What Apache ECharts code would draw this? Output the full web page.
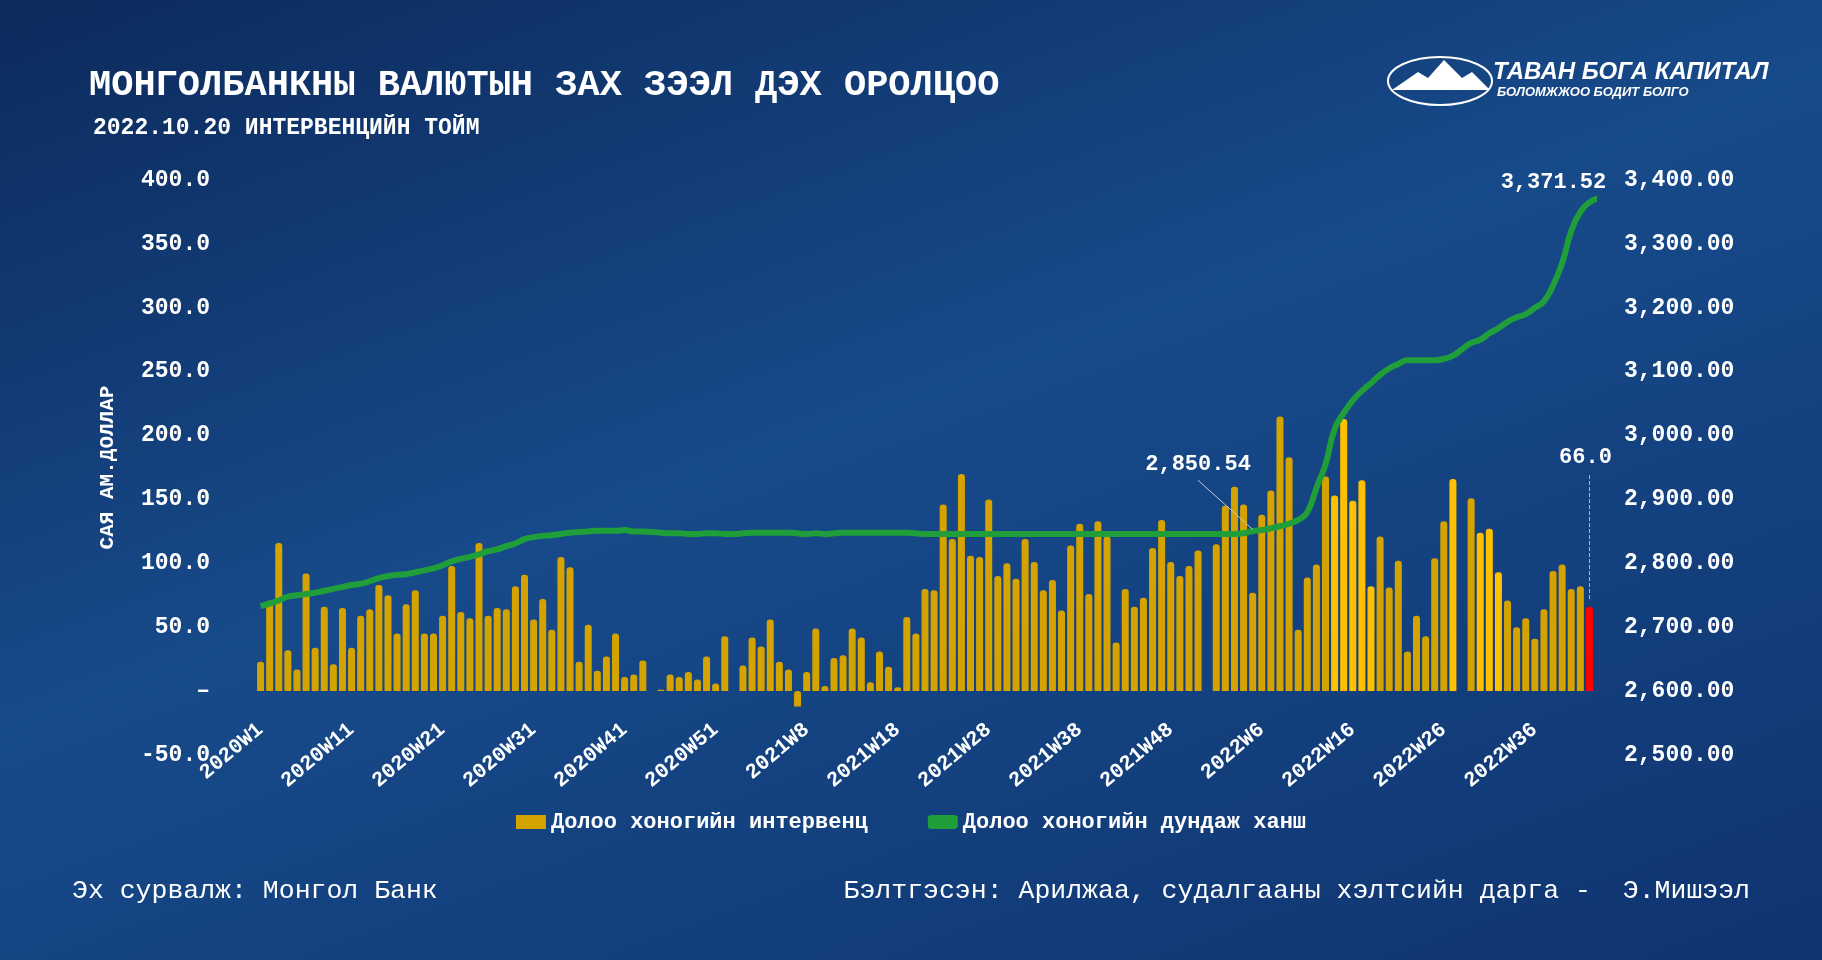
<!DOCTYPE html>
<html><head><meta charset="utf-8">
<script src="https://cdn.jsdelivr.net/npm/echarts@6/dist/echarts.min.js"></script>
<style>html,body{margin:0;padding:0;}#c{width:1822px;height:960px;background:linear-gradient(160deg,#0c2a5c 0%,#174a8a 45%,#0f3470 100%);}</style>
</head><body><div id="c"></div>
<script>
const weekCounts = [[2020,53],[2021,52],[2022,42]];
const categories = [];
weekCounts.forEach(([y,n])=>{for(let w=1;w<=n;w++)categories.push(y+'W'+w);});

const intervention = [23,71,116,32,17,92,34,66,21,65,34,59,64,83,75,45,68,79,45,45,
59,98,62,57,116,59,65,64,82,91,56,72,48,105,97,23,52,16,27,45,
11,13,24,0,1,13,11,15,9,27,6,43,0,20,42,35,56,23,17,-12,
15,49,4,26,28,49,42,7,31,19,3,58,45,80,79,146,119,170,106,105,
150,90,100,88,119,101,79,87,63,114,131,76,133,121,38,80,66,73,112,134,
101,90,98,110,0,115,145,160,146,77,138,157,215,183,48,89,99,168,153,213,
149,165,82,121,81,102,31,59,43,104,133,166,0,151,124,127,93,71,50,57,
41,64,94,99,80,82,66];

const avgRate = [2733,2737,2742,2748,2750,2752,2754,2757,2760,2763,2766,
2768,2772,2777,2780,2782,2783,2786,2789,2792,2797,
2803,2807,2810,2814,2819,2822,2827,2831,2838,2841,
2843,2844,2846,2848,2849,2850,2851,2851,2851,2852,
2850,2850,2849,2848,2847,2847,2846,2846,2847,2847,
2846,2846,2847,2848,2848,2848,2848,2848,2847,2846,
2847,2846,2847,2848,2848,2848,2848,2848,2848,2848,
2848,2847,2846,2846,2846,2846,2846,2846,2846,2846,
2846,2846,2846,2846,2846,2846,2846,2846,2846,2846,
2846,2846,2846,2846,2846,2846,2846,2846,2846,2846,
2846,2846,2846,2846,2846,2846,2846,2847,2850.54,2852,
2855,2858,2862,2868,2880,2918,2955,3010,3035,3055,
3070,3082,3095,3105,3112,3118,3118,3118,3118,3120,
3125,3135,3145,3150,3160,3168,3178,3185,3190,3200,
3210,3235,3270,3320,3350,3365,3371.52];

const brightIdx = [118,119,120,121,122,131,132,134,135,136];
const mono = 'Liberation Mono';
const barData = intervention.map((v,i)=>{
  if(i===intervention.length-1) return {value:v,itemStyle:{color:'#ff0000'}};
  if(brightIdx.includes(i)) return {value:v,itemStyle:{color:'#ffc000'}};
  return v;
});
const last = categories.length-1;

const chart = echarts.init(document.getElementById('c'));
chart.setOption({
  backgroundColor:'transparent',
  textStyle:{fontFamily:mono},
  title:[
    {text:'МОНГОЛБАНКНЫ ВАЛЮТЫН ЗАХ ЗЭЭЛ ДЭХ ОРОЛЦОО',left:84,top:62,textStyle:{color:'#fff',fontSize:37,fontWeight:'bold',fontFamily:mono}},
    {text:'2022.10.20 ИНТЕРВЕНЦИЙН ТОЙМ',left:88,top:112,textStyle:{color:'#fff',fontSize:23,fontWeight:'bold',fontFamily:mono}}
  ],
  graphic:[
    {type:'ellipse',shape:{cx:1440,cy:81,rx:52,ry:24},style:{fill:'none',stroke:'#fff',lineWidth:2}},
    {type:'polygon',shape:{points:[[1392,90],[1418,72],[1428,78],[1444,60],[1462,78],[1472,72],[1490,90]]},style:{fill:'#fff'}},
    {type:'text',left:1493,top:60,style:{text:'ТАВАН БОГА КАПИТАЛ',fill:'#fff',font:'italic bold 24px Liberation Sans'}},
    {type:'text',left:1497,top:86,style:{text:'БОЛОМЖЖОО БОДИТ БОЛГО',fill:'#fff',font:'italic bold 13px Liberation Sans'}},
    {type:'text',left:72,top:877,style:{text:'Эх сурвалж: Монгол Банк',fill:'#fff',font:'26.5px Liberation Mono'}},
    {type:'text',right:72,top:877,style:{text:'Бэлтгэсэн: Арилжаа, судалгааны хэлтсийн дарга -  Э.Мишээл',fill:'#fff',font:'26.5px Liberation Mono'}}
  ],
  legend:{bottom:122,left:'center',itemGap:60,textStyle:{color:'#fff',fontSize:22,fontWeight:'bold',fontFamily:mono},
    data:[{name:'Долоо хоногийн интервенц',icon:'rect'},{name:'Долоо хоногийн дундаж ханш',icon:'roundRect'}],itemWidth:30,itemHeight:14},
  grid:{left:256,right:228,top:180,bottom:205},
  xAxis:{type:'category',data:categories,
    axisLine:{show:false},axisTick:{show:false},
    axisLabel:{color:'#fff',interval:9,rotate:40,fontSize:21,fontWeight:'bold',fontFamily:mono,margin:-28}},
  yAxis:[
    {type:'value',min:-50,max:400,interval:50,splitLine:{show:false},
      name:'САЯ АМ.ДОЛЛАР',nameLocation:'middle',nameGap:138,nameRotate:90,
      nameTextStyle:{color:'#fff',fontSize:21,fontWeight:'bold',fontFamily:mono},
      axisLabel:{color:'#fff',fontSize:23,fontWeight:'bold',fontFamily:mono,margin:46,align:'right',formatter:v=>v===0?'–':v.toFixed(1)}},
    {type:'value',min:2500,max:3400,interval:100,splitLine:{show:false},
      axisLabel:{color:'#fff',fontSize:23,fontWeight:'bold',fontFamily:mono,margin:30,formatter:v=>v.toLocaleString('en-US',{minimumFractionDigits:2})}}
  ],
  series:[
    {name:'Долоо хоногийн интервенц',type:'bar',data:barData,barWidth:7,itemStyle:{color:'#d4a300',borderRadius:[3,3,0,0]},
      markLine:{symbol:'none',silent:true,lineStyle:{color:'#aab8d0',type:'dashed',width:1},label:{show:false},
        data:[[{coord:[last,72]},{coord:[last,170]}]]},
      markPoint:{symbol:'circle',symbolSize:0,data:[{coord:[last,170]}],label:{show:true,formatter:'66.0',color:'#fff',fontSize:22,fontWeight:'bold',fontFamily:mono,offset:[-4,-16]}}},
    {name:'Долоо хоногийн дундаж ханш',type:'line',yAxisIndex:1,data:avgRate,smooth:true,showSymbol:false,
      lineStyle:{color:'#1f9e3a',width:6},itemStyle:{color:'#1f9e3a'},
      markLine:{symbol:'none',silent:true,lineStyle:{color:'#c0c8d8',type:'solid',width:1},label:{show:false},
        data:[[{coord:[109,2853]},{coord:[103,2930]}]]},
      markPoint:{symbol:'circle',symbolSize:0,
        data:[{coord:[103,2930],label:{formatter:'2,850.54',offset:[0,-16]}},
              {coord:[last,3371.52],label:{formatter:'3,371.52',offset:[-36,-16]}}],
        label:{show:true,color:'#fff',fontSize:22,fontWeight:'bold',fontFamily:mono}}}
  ]
});
</script></body></html>
